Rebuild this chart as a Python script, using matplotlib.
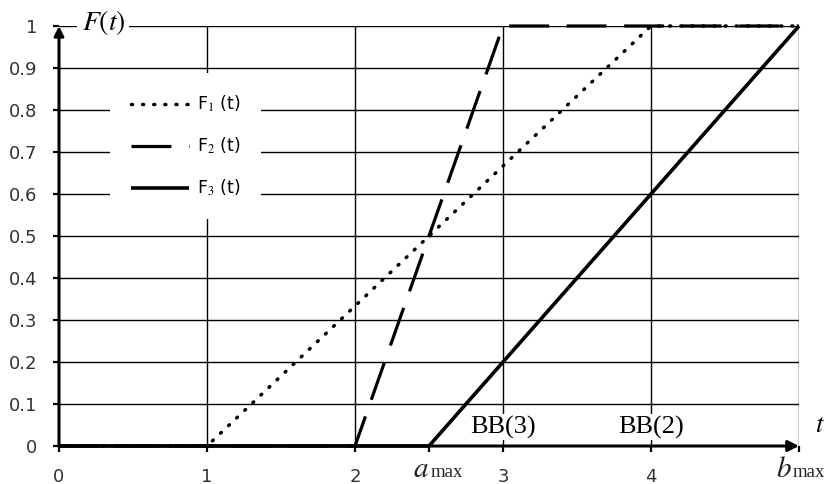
import matplotlib
matplotlib.use("Agg")
import matplotlib.pyplot as plt
import matplotlib.transforms as mtransforms

# ---- data ----
t1 = [0, 1, 4, 5]
F1 = [0, 0, 1, 1]
t2 = [0, 2, 3, 5]
F2 = [0, 0, 1, 1]
t3 = [0, 2.5, 5]
F3 = [0, 0, 1]
xticks = [0, 1, 2, 2.5, 3, 4, 5]
xticklabels = ['0', '1', '2', '', '3', '4', '']
special_x = [2.5, 5]
special_main = ['a', 'b']
special_sub = ['max', 'max']
yticks = [0, 0.1, 0.2, 0.3, 0.4, 0.5, 0.6, 0.7, 0.8, 0.9, 1]
yticklabels = ['0', '0.1', '0.2', '0.3', '0.4', '0.5', '0.6', '0.7', '0.8', '0.9', '1']
labels = [r'F$_1$ (t)', r'F$_2$ (t)', r'F$_3$ (t)']
bb_texts = ['BB(3)', 'BB(2)']
bb_x = [3, 4]

plt.rcParams['mathtext.fontset'] = 'stix'
plt.rcParams['font.family'] = ['DejaVu Sans']

fig = plt.figure(figsize=(8.24, 4.84), dpi=100)
ax = fig.add_axes([59/824, 38/484, 740/824, 420/484])
ax.set_xlim(0, 5)
ax.set_ylim(0, 1)

for s in ax.spines.values():
    s.set_visible(False)

# grid
for x in [1, 2, 3, 4, 5]:
    ax.axvline(x, color='black', lw=1.0, zorder=1)
for y in yticks[1:]:
    ax.axhline(y, color='black', lw=1.0, zorder=1)

lw = 2.3
ax.plot(t1, F1, color='black', lw=2.5, linestyle=(0, (0.3, 2.9)),
        dash_capstyle='round', zorder=3, clip_on=False, label=labels[0])
ax.plot(t2, F2, color='black', lw=lw, linestyle=(0, (12.5, 5.5)),
        zorder=3, clip_on=False, label=labels[1])
ax.plot(t3, F3, color='black', lw=2.6, linestyle='-', solid_capstyle='butt',
        zorder=3, clip_on=False, label=labels[2])

# axes with arrows
ax.annotate('', xy=(5, 0), xytext=(0, 0), xycoords='data',
            arrowprops=dict(arrowstyle='-|>', lw=2.2, color='black',
                            mutation_scale=16, shrinkA=0, shrinkB=0),
            zorder=5, annotation_clip=False)
ax.annotate('', xy=(0, 1), xytext=(0, 0), xycoords='data',
            arrowprops=dict(arrowstyle='-|>', lw=2.2, color='black',
                            mutation_scale=14, shrinkA=0, shrinkB=0),
            zorder=5, annotation_clip=False)

ax.set_xticks(xticks)
ax.set_xticklabels(xticklabels)
ax.set_yticks(yticks)
ax.set_yticklabels(yticklabels)
ax.tick_params(axis='both', direction='out', length=4.5, width=1.6,
               color='black', labelsize=13, labelcolor='#333333')
ax.tick_params(axis='x', pad=11)
ax.tick_params(axis='y', pad=11)

# a_max / b_max labels (main letter italic, "max" smaller on same baseline)
trans = mtransforms.blended_transform_factory(ax.transData, fig.transFigure)
base_y = 7 / 484
offs_main = [0.0, -0.05]
offs_sub = [0.012, -0.04]
for x, m, s, om, osb in zip(special_x, special_main, special_sub, offs_main, offs_sub):
    ax.text(x + om, base_y, '$' + m + '$', fontsize=21, ha='right', va='baseline',
            transform=trans, color='#222222', clip_on=False)
    ax.text(x + osb, base_y, s, fontsize=13.5, family='Liberation Serif',
            ha='left', va='baseline', transform=trans, color='#222222',
            clip_on=False)

# labels
ax.text(0.30, 1.008, r'$F(t)$', fontsize=20, ha='center', va='center',
        bbox=dict(facecolor='white', edgecolor='none', pad=3), zorder=4,
        clip_on=False)
ax.text(5.14, 0.05, r'$t$', fontsize=19, ha='center', va='center', clip_on=False)
for txt, x in zip(bb_texts, bb_x):
    ax.text(x, 0.045, txt, fontsize=19, family='Liberation Serif',
            ha='center', va='center', zorder=4,
            bbox=dict(facecolor='white', edgecolor='none', pad=1.0))

leg = ax.legend(loc='upper left', bbox_to_anchor=(51/740, (446 - 73)/420),
                frameon=True, fancybox=False, edgecolor='none', facecolor='white',
                framealpha=1, fontsize=12.5, handlelength=3.35, handletextpad=0.45,
                labelspacing=1.25, borderpad=1.2, borderaxespad=0)
leg.set_zorder(6)

fig.savefig('out.png', dpi=100)
